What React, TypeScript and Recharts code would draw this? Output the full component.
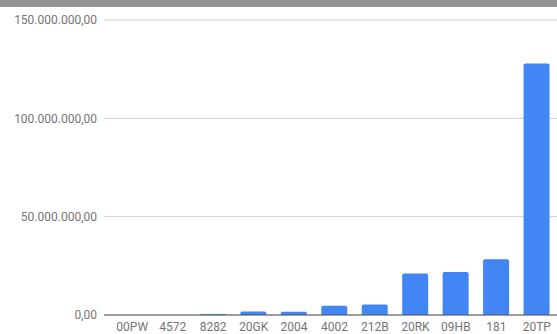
import React from 'react';
import { BarChart, Bar, XAxis, YAxis, CartesianGrid } from 'recharts';

// values
const categories = ['00PW', '4572', '8282', '20GK', '2004', '4002', '212B', '20RK', '09HB', '181', '20TP'];
const totals = [40000, 60000, 500000, 1800000, 1700000, 4700000, 5400000, 21100000, 21900000, 28400000, 127900000];
const yTicks = [0, 50000000, 100000000, 150000000];

const chartData = categories.map((name, i) => ({ name, total: totals[i] }));

// 150000000 -> "150.000.000,00"
const formatBR = (v: number) => {
  const int = Math.round(v).toString().replace(/\B(?=(\d{3})+(?!\d))/g, '.');
  return `${int},00`;
};

const tickStyle = { fill: '#757575', fontSize: 12, fontFamily: 'Roboto, sans-serif' };

const App: React.FC = () => {
  return (
    <div style={{ position: 'absolute', left: 0, top: 0, width: 557, height: 334, background: '#fff', overflow: 'hidden' }}>
      <div style={{ position: 'absolute', left: 0, top: 0, width: 557, height: 7, background: '#949497' }} />
      <BarChart
        width={557}
        height={334}
        data={chartData}
        margin={{ top: 20, right: 0, bottom: 0, left: 0 }}
        barSize={26}
      >
        <CartesianGrid vertical={false} stroke="#d0d0d0" />
        <XAxis
          dataKey="name"
          height={19}
          tickSize={0}
          tickMargin={7}
          interval={0}
          padding={{ left: 8, right: 0 }}
          tick={tickStyle}
          axisLine={{ stroke: '#555555' }}
        />
        <YAxis
          width={104}
          domain={[0, 150000000]}
          ticks={yTicks}
          tickFormatter={formatBR}
          tickSize={0}
          tickMargin={7}
          tick={tickStyle}
          axisLine={false}
          tickLine={false}
        />
        <Bar dataKey="total" fill="#4285f4" radius={[2, 2, 0, 0]} isAnimationActive={false} />
      </BarChart>
    </div>
  );
};

export default App;
